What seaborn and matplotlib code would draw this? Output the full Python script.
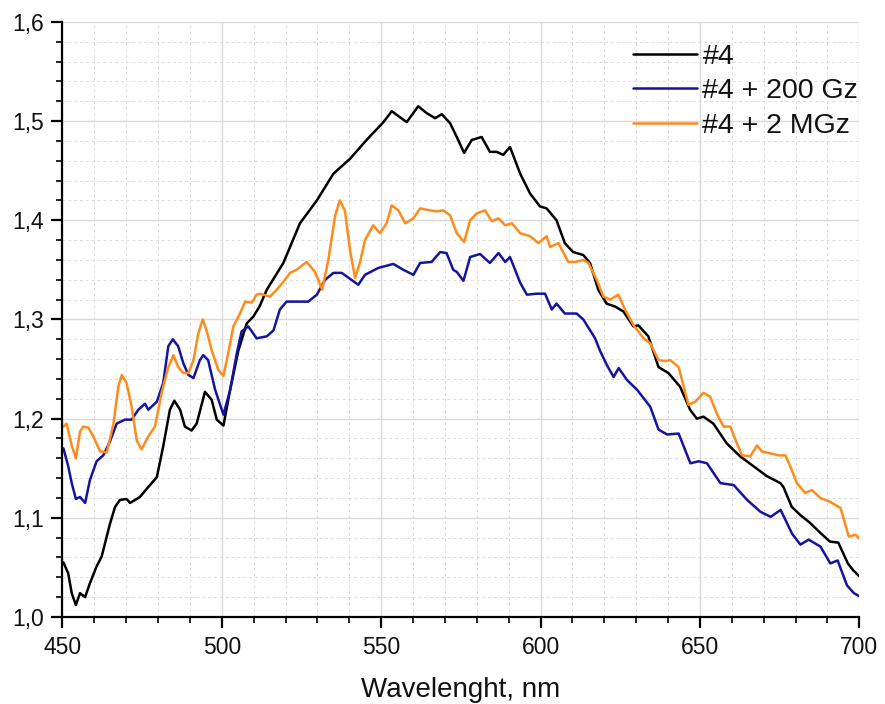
import numpy as np
import pandas as pd
import matplotlib
matplotlib.use("Agg")
import matplotlib.pyplot as plt
from matplotlib.ticker import MultipleLocator, FuncFormatter
import seaborn as sns

# ---- data ----
black_x = [450.3, 451.8, 452.9, 454.2, 455.5, 457.1, 458.6, 460.7, 462.3, 464.9, 466.5, 468.0, 470.1, 471.2,
           474.3, 476.9, 479.6, 481.6, 483.7, 485.1, 486.9, 488.4, 490.5, 492.1, 494.7, 496.8, 498.4, 500.5,
           502.6, 505.2, 507.8, 509.9, 511.8, 514.1, 519.3, 524.5, 529.8, 535.0, 540.2, 545.4, 550.7, 553.3,
           558.0, 561.6, 564.3, 566.9, 569.0, 571.6, 573.7, 576.0, 578.4, 581.5, 584.1, 586.2, 588.3, 590.4,
           593.6, 596.7, 599.8, 601.9, 605.0, 607.6, 610.2, 613.4, 615.5, 618.1, 620.7, 623.4, 626.0, 629.1,
           630.7, 633.8, 637.0, 640.1, 643.8, 646.9, 649.0, 651.1, 654.2, 658.4, 662.6, 666.8, 671.0, 675.2,
           676.2, 678.8, 681.4, 684.5, 687.7, 690.8, 693.4, 696.4, 698.1, 700.0]
black_y = [1.055, 1.044, 1.024, 1.012, 1.024, 1.020, 1.034, 1.051, 1.061, 1.094, 1.111, 1.118, 1.119, 1.115,
           1.121, 1.131, 1.141, 1.172, 1.209, 1.218, 1.209, 1.192, 1.188, 1.195, 1.227, 1.219, 1.199, 1.193,
           1.229, 1.269, 1.296, 1.303, 1.313, 1.330, 1.357, 1.397, 1.420, 1.447, 1.462, 1.481, 1.499, 1.510,
           1.499, 1.515, 1.508, 1.503, 1.507, 1.498, 1.484, 1.468, 1.481, 1.484, 1.469, 1.469, 1.466, 1.474,
           1.447, 1.427, 1.414, 1.412, 1.400, 1.377, 1.368, 1.365, 1.357, 1.330, 1.316, 1.313, 1.308, 1.293,
           1.294, 1.283, 1.252, 1.246, 1.232, 1.209, 1.200, 1.202, 1.195, 1.175, 1.162, 1.152, 1.142, 1.135,
           1.131, 1.111, 1.103, 1.095, 1.085, 1.076, 1.075, 1.054, 1.047, 1.041]

blue_x = [450.3, 451.8, 452.9, 454.2, 455.5, 457.1, 458.6, 460.7, 462.8, 464.9, 467.0, 469.6, 471.7, 473.8,
          475.9, 476.9, 479.6, 481.6, 483.2, 484.6, 486.3, 487.9, 489.5, 491.1, 493.1, 494.2, 495.7, 497.9,
          500.5, 502.6, 504.7, 506.2, 508.3, 510.9, 514.1, 516.2, 518.2, 520.3, 524.5, 527.1, 529.8, 532.4,
          535.0, 537.6, 540.2, 542.8, 544.9, 549.1, 553.8, 557.0, 560.1, 562.2, 565.8, 568.5, 570.5, 572.6,
          573.7, 575.8, 577.9, 581.0, 584.1, 586.8, 588.9, 590.4, 593.6, 595.7, 598.8, 601.4, 603.5, 605.0,
          607.6, 611.3, 613.4, 617.1, 618.7, 620.8, 622.9, 624.5, 627.1, 630.3, 634.4, 637.0, 639.7, 643.3,
          647.0, 649.6, 652.2, 656.4, 660.6, 664.8, 669.0, 672.2, 675.3, 678.9, 681.5, 684.1, 687.8, 690.9,
          693.2, 696.1, 698.3, 700.0]
blue_y = [1.170, 1.152, 1.135, 1.119, 1.121, 1.115, 1.138, 1.157, 1.163, 1.177, 1.195, 1.199, 1.199, 1.209,
          1.215, 1.209, 1.217, 1.236, 1.273, 1.280, 1.273, 1.256, 1.244, 1.241, 1.259, 1.264, 1.259, 1.229,
          1.204, 1.229, 1.266, 1.288, 1.293, 1.281, 1.283, 1.289, 1.310, 1.318, 1.318, 1.318, 1.325, 1.340,
          1.347, 1.347, 1.341, 1.335, 1.345, 1.352, 1.356, 1.350, 1.345, 1.357, 1.358, 1.368, 1.367, 1.350,
          1.348, 1.339, 1.363, 1.366, 1.357, 1.367, 1.358, 1.363, 1.337, 1.325, 1.326, 1.326, 1.310, 1.316,
          1.306, 1.306, 1.300, 1.281, 1.268, 1.254, 1.242, 1.251, 1.239, 1.229, 1.212, 1.189, 1.184, 1.185,
          1.155, 1.157, 1.155, 1.135, 1.133, 1.118, 1.106, 1.101, 1.108, 1.084, 1.073, 1.078, 1.071, 1.054,
          1.057, 1.032, 1.024, 1.021]

orange_x = [450.3, 451.3, 452.9, 454.2, 455.5, 456.5, 458.1, 459.7, 461.8, 463.9, 466.0, 467.5, 468.6, 470.1,
            471.7, 473.3, 474.8, 476.9, 479.0, 481.1, 483.2, 484.8, 486.3, 487.9, 489.5, 491.1, 492.6, 494.0,
            495.2, 496.8, 498.9, 500.5, 502.0, 503.6, 505.7, 507.3, 509.4, 510.9, 512.0, 515.1, 517.2, 519.3,
            521.4, 523.4, 526.6, 529.2, 531.5, 533.4, 535.5, 537.0, 538.6, 540.2, 541.8, 543.3, 544.9, 547.5,
            549.6, 551.7, 553.3, 555.4, 557.5, 560.1, 562.2, 565.3, 567.4, 569.5, 571.6, 573.7, 576.0, 577.9,
            580.0, 582.6, 584.7, 586.8, 588.9, 591.0, 593.6, 596.7, 599.3, 601.9, 603.0, 605.6, 608.7, 610.8,
            613.4, 615.0, 617.6, 619.7, 621.8, 624.4, 626.5, 629.2, 632.3, 634.4, 637.0, 639.1, 640.7, 643.3,
            646.4, 648.5, 651.1, 653.2, 655.3, 657.4, 659.5, 661.6, 663.2, 665.8, 667.9, 669.4, 672.0, 674.7,
            676.8, 678.3, 680.4, 683.0, 685.1, 687.8, 690.9, 694.1, 696.7, 698.8, 700.0]
orange_y = [1.192, 1.195, 1.173, 1.160, 1.187, 1.192, 1.191, 1.182, 1.167, 1.166, 1.195, 1.232, 1.244, 1.236,
            1.212, 1.178, 1.169, 1.182, 1.192, 1.226, 1.252, 1.264, 1.252, 1.246, 1.246, 1.259, 1.286, 1.300,
            1.289, 1.269, 1.249, 1.243, 1.266, 1.293, 1.306, 1.318, 1.317, 1.325, 1.326, 1.323, 1.330, 1.338,
            1.347, 1.350, 1.358, 1.348, 1.330, 1.360, 1.404, 1.420, 1.410, 1.370, 1.342, 1.357, 1.380, 1.395,
            1.387, 1.397, 1.415, 1.410, 1.397, 1.402, 1.412, 1.410, 1.409, 1.410, 1.405, 1.387, 1.378, 1.400,
            1.407, 1.410, 1.399, 1.402, 1.395, 1.397, 1.387, 1.384, 1.377, 1.384, 1.373, 1.377, 1.358, 1.358,
            1.360, 1.357, 1.340, 1.323, 1.320, 1.325, 1.310, 1.294, 1.281, 1.276, 1.259, 1.258, 1.259, 1.252,
            1.214, 1.217, 1.226, 1.222, 1.205, 1.192, 1.192, 1.175, 1.163, 1.162, 1.173, 1.167, 1.165, 1.163,
            1.163, 1.152, 1.135, 1.125, 1.128, 1.120, 1.116, 1.110, 1.081, 1.083, 1.079]

labels = ["#4", "#4 + 200 Gz", "#4 + 2 MGz"]
colors = ["#000000", "#1414a0", "#ff8c1a"]

df = pd.concat([
    pd.DataFrame({"x": black_x, "y": black_y, "series": labels[0]}),
    pd.DataFrame({"x": blue_x, "y": blue_y, "series": labels[1]}),
    pd.DataFrame({"x": orange_x, "y": orange_y, "series": labels[2]}),
], ignore_index=True)

sns.set_style("white")
plt.rcParams["font.family"] = ["Liberation Sans", "DejaVu Sans"]
plt.rcParams["text.color"] = "#111111"
plt.rcParams["axes.labelcolor"] = "#111111"

fig = plt.figure(figsize=(8.85, 7.04), dpi=100)
ax = fig.add_axes([0.0706, 0.1236, 0.9004, 0.8452])

sns.lineplot(data=df, x="x", y="y", hue="series", hue_order=labels,
             palette=dict(zip(labels, colors)), estimator=None, sort=False,
             linewidth=1.8, ax=ax)

ax.set_xlim(450, 700)
ax.set_ylim(1.0, 1.6)
ax.xaxis.set_major_locator(MultipleLocator(50))
ax.xaxis.set_minor_locator(MultipleLocator(10))
ax.yaxis.set_major_locator(MultipleLocator(0.1))
ax.yaxis.set_minor_locator(MultipleLocator(0.02))
ax.yaxis.set_major_formatter(FuncFormatter(lambda v, p: f"{v:.1f}".replace(".", ",")))

ax.grid(True, which="major", color="#d9d9d9", linewidth=1.0, linestyle="-")
ax.grid(True, which="minor", color="#dcdcdc", linewidth=0.7, linestyle=(0, (3, 3)))
ax.set_axisbelow(True)

for s in ["top", "right"]:
    ax.spines[s].set_visible(False)
for s in ["left", "bottom"]:
    ax.spines[s].set_linewidth(1.6)
    ax.spines[s].set_color("black")

ax.tick_params(which="major", direction="out", length=8, width=1.6, labelsize=16.5,
               colors="black", labelcolor="#111111", left=True, bottom=True, pad=5.5)
ax.tick_params(which="minor", direction="out", length=4.5, width=1.4,
               left=True, bottom=True)

ax.set_xlabel("Wavelenght, nm", fontsize=20, labelpad=13)
ax.set_ylabel("")

handles, lbls = ax.get_legend_handles_labels()
ax.legend(handles, lbls, loc="upper right", bbox_to_anchor=(1.020, 0.992), frameon=False,
          fontsize=20.5, handlelength=2.25, handletextpad=0.2, labelspacing=0.3,
          borderaxespad=0.2)

fig.savefig("out.png", dpi=100)
